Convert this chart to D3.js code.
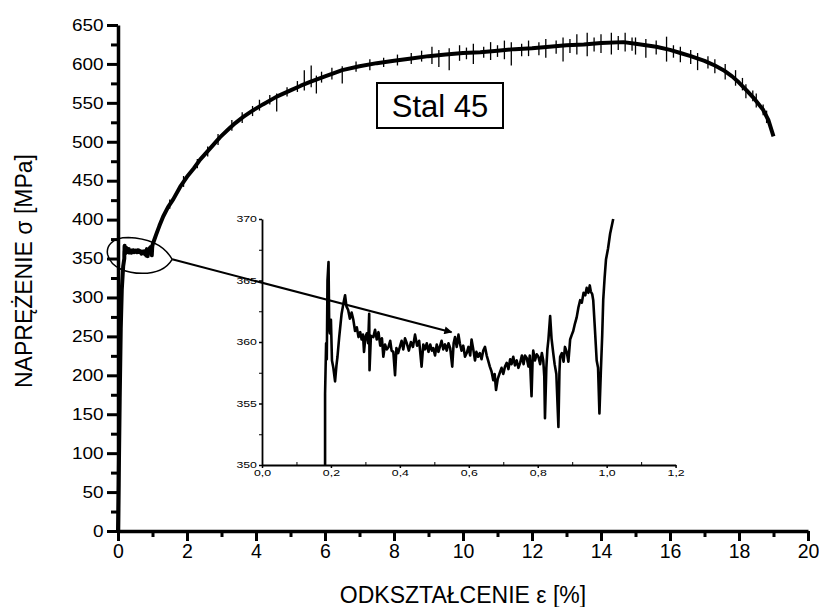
<!DOCTYPE html>
<html>
<head>
<meta charset="utf-8">
<script src="https://cdn.jsdelivr.net/npm/d3@7"></script>
<style>
  body { margin: 0; background: #fff; }
  svg text { font-family: Arial, "Liberation Sans", sans-serif; fill: #000; }
</style>
</head>
<body>
<div id="chart"></div>
<script>
// ---- data ----
// main axis ticks
const xTicks = [0, 2, 4, 6, 8, 10, 12, 14, 16, 18, 20];
const xMinorTicks = [1, 3, 5, 7, 9, 11, 13, 15, 17, 19];
const yTicks = [0, 50, 100, 150, 200, 250, 300, 350, 400, 450, 500, 550, 600, 650];
const yMinorTicks = [25, 75, 125, 175, 225, 275, 325, 375, 425, 475, 525, 575, 625];

// inset ticks
const insetXTicks = [0, 0.2, 0.4, 0.6, 0.8, 1.0, 1.2];
const insetXMinor = [0.1, 0.3, 0.5, 0.7, 0.9, 1.1];
const insetYTicks = [350, 355, 360, 365, 370];
const insetYMinor = [352.5, 357.5, 362.5, 367.5];

// elastic part [strain %, stress MPa]
const elastic = [[0, 0], [0.02, 60], [0.05, 170], [0.08, 260], [0.11, 310], [0.15, 340], [0.183, 350]];

// yield plateau (same points as in the inset)
const plateau = [
  [0.183, 350], [0.183, 355.8], [0.186, 359.9], [0.188, 358.6], [0.19, 365], [0.193, 366.5],
  [0.195, 361.2], [0.197, 360.7], [0.2, 361.8], [0.203, 358.5], [0.207, 357.9], [0.212, 356.8],
  [0.216, 358.1], [0.219, 358.8], [0.224, 360.4], [0.228, 361.5], [0.231, 362.3], [0.236, 363.1],
  [0.241, 363.8], [0.245, 362.9], [0.25, 362.6], [0.255, 361.9], [0.26, 362.4], [0.265, 361.8],
  [0.27, 360.9], [0.275, 361.2], [0.28, 360.4], [0.285, 360.8], [0.289, 360.2], [0.293, 360.6],
  [0.296, 359.2], [0.3, 360.4], [0.304, 360.7], [0.308, 359.9], [0.311, 362.3], [0.312, 357.7],
  [0.316, 360.5], [0.323, 360.4], [0.328, 361.0], [0.333, 360.2], [0.338, 360.8], [0.343, 359.7],
  [0.348, 360.3], [0.352, 358.8], [0.357, 359.8], [0.362, 359.4], [0.367, 359.6], [0.372, 360.1],
  [0.376, 359.3], [0.381, 359.2], [0.386, 357.3], [0.39, 359.5], [0.395, 359.1], [0.4, 359.6],
  [0.405, 360.1], [0.41, 359.4], [0.415, 360.3], [0.42, 359.9], [0.426, 359.3], [0.432, 360.0],
  [0.438, 359.6], [0.444, 360.6], [0.45, 359.7], [0.456, 360.1], [0.463, 358.0], [0.468, 359.8],
  [0.473, 359.4], [0.478, 359.9], [0.483, 359.2], [0.488, 359.8], [0.493, 359.3], [0.497, 359.5],
  [0.502, 358.9], [0.507, 359.8], [0.512, 359.2], [0.516, 359.6], [0.521, 360.1], [0.526, 359.4],
  [0.531, 359.8], [0.536, 359.3], [0.541, 359.9], [0.546, 359.5], [0.552, 358.0], [0.556, 359.9],
  [0.56, 360.4], [0.565, 359.6], [0.57, 360.6], [0.574, 359.9], [0.579, 359.3], [0.584, 359.7],
  [0.589, 358.8], [0.594, 359.1], [0.599, 359.6], [0.604, 358.9], [0.608, 360.2], [0.613, 359.4],
  [0.618, 358.5], [0.622, 359.2], [0.627, 358.8], [0.632, 359.1], [0.637, 358.6], [0.642, 359.3],
  [0.647, 359.6], [0.652, 358.9], [0.656, 358.5], [0.661, 358.0], [0.666, 357.6], [0.671, 356.9],
  [0.675, 357.4], [0.679, 356.1], [0.684, 357.0], [0.69, 357.5], [0.695, 357.9], [0.7, 357.4],
  [0.705, 358.0], [0.71, 358.3], [0.715, 357.8], [0.72, 358.6], [0.724, 358.2], [0.729, 358.8],
  [0.734, 358.1], [0.739, 358.5], [0.744, 357.9], [0.749, 358.3], [0.754, 358.9], [0.759, 358.2],
  [0.763, 358.9], [0.768, 358.7], [0.773, 358.0], [0.777, 358.9], [0.782, 355.6], [0.785, 358.4],
  [0.787, 359.3], [0.792, 358.5], [0.797, 359.0], [0.802, 358.8], [0.807, 358.2], [0.812, 359.1],
  [0.816, 358.5], [0.819, 357.2], [0.821, 353.8], [0.825, 357.9], [0.828, 359.4], [0.831, 360.2],
  [0.836, 362.1], [0.84, 360.3], [0.845, 359.1], [0.849, 358.2], [0.854, 357.4], [0.86, 353.1],
  [0.863, 357.6], [0.865, 358.8], [0.87, 359.1], [0.875, 358.4], [0.879, 359.6], [0.884, 359.2],
  [0.889, 358.4], [0.894, 360.2], [0.899, 360.6], [0.903, 360.9], [0.908, 361.5], [0.913, 362.0],
  [0.918, 362.8], [0.923, 363.4], [0.928, 363.2], [0.933, 364.0], [0.938, 363.8], [0.942, 364.4],
  [0.947, 364.0], [0.951, 364.6], [0.954, 364.1], [0.958, 363.9], [0.961, 363.4], [0.966, 361.0],
  [0.971, 358.5], [0.975, 357.9], [0.979, 354.2], [0.983, 357.5], [0.987, 360.5], [0.99, 363.4],
  [0.994, 365.2], [0.998, 366.7], [1.004, 367.6], [1.01, 368.8], [1.019, 370]
];

// strain hardening up to fracture
const hardening = [
  [1.1, 380], [1.2, 392], [1.31, 404], [1.45, 416], [1.6, 426], [1.8, 442], [2.0, 455],
  [2.2, 466], [2.38, 477], [2.6, 488], [2.8, 498], [2.96, 506], [3.2, 516], [3.4, 524],
  [3.63, 532], [3.9, 540], [4.2, 548], [4.6, 558], [5.0, 566], [5.3, 572], [5.57, 577],
  [6.0, 584], [6.5, 592], [7.0, 597], [7.5, 601], [8.0, 604], [8.5, 607], [9.0, 610],
  [9.5, 612], [10.0, 614], [10.5, 615], [11.0, 617], [11.5, 619], [12.0, 620], [12.5, 622],
  [13.0, 624], [13.5, 625], [14.0, 627], [14.65, 628], [15.0, 626], [15.3, 624], [15.6, 622],
  [16.0, 618], [16.3, 614], [16.6, 610], [17.0, 604], [17.3, 598], [17.55, 592], [17.8, 584],
  [18.0, 576], [18.22, 566], [18.45, 555], [18.7, 541], [18.85, 528], [18.95, 514], [19.0, 507]
];

// noise spikes on the hardening curve [strain, low, high]
const spikes = [
  [1.5, 414, 426], [1.9, 442, 456], [2.3, 466, 478], [2.6, 481, 494], [2.9, 496, 510],
  [3.3, 514, 528], [3.6, 524, 538], [3.9, 533, 546], [4.1, 540, 554], [4.4, 548, 560],
  [4.6, 539, 562], [4.9, 558, 570], [5.2, 564, 578], [5.4, 566, 592], [5.6, 570, 598],
  [5.75, 562, 585], [5.9, 576, 590], [6.2, 580, 595], [6.5, 575, 597], [6.9, 590, 603],
  [7.3, 592, 606], [7.7, 596, 608], [8.1, 598, 612], [8.5, 600, 614], [8.8, 603, 617],
  [9.1, 600, 622], [9.3, 596, 618], [9.6, 592, 620], [9.9, 604, 624], [10.1, 606, 621],
  [10.3, 600, 626], [10.6, 608, 622], [10.8, 605, 628], [11.0, 609, 624], [11.2, 606, 630],
  [11.4, 598, 628], [11.7, 610, 626], [11.9, 610, 630], [12.2, 611, 628], [12.4, 608, 632],
  [12.7, 613, 630], [12.9, 603, 634], [13.1, 614, 632], [13.3, 612, 638], [13.6, 610, 640],
  [13.8, 616, 634], [14.0, 614, 638], [14.3, 612, 640], [14.5, 618, 636], [14.7, 616, 640],
  [14.9, 617, 634], [15.0, 612, 634], [15.3, 608, 632], [15.6, 612, 630], [15.9, 603, 635],
  [16.1, 608, 624], [16.3, 602, 622], [16.6, 600, 618], [16.8, 592, 614], [17.1, 594, 610],
  [17.3, 588, 606], [17.6, 580, 600], [17.9, 572, 592], [18.1, 566, 582], [18.2, 556, 574],
  [18.4, 552, 566], [18.5, 544, 562], [18.7, 534, 548], [18.8, 524, 540]
];

// ---- layout ----
const width = 819, height = 607;
const margin = { top: 25, right: 11, bottom: 76, left: 118 };

const svg = d3.select("#chart")
  .append("svg")
  .attr("width", width)
  .attr("height", height)
  .attr("viewBox", [0, 0, width, height]);

const x = d3.scaleLinear().domain([0, 20]).range([margin.left, width - margin.right]);
const y = d3.scaleLinear().domain([0, 650]).range([height - margin.bottom, margin.top]);

// main axes (minor ticks first, then the labelled ones)
svg.append("g")
  .attr("class", "x-minor")
  .attr("transform", `translate(0,${y(0)})`)
  .call(d3.axisBottom(x).tickValues(xMinorTicks).tickSize(6).tickFormat(""))
  .call(g => g.select(".domain").remove());

svg.append("g")
  .attr("class", "y-minor")
  .attr("transform", `translate(${x(0)},0)`)
  .call(d3.axisLeft(y).tickValues(yMinorTicks).tickSize(7).tickFormat(""))
  .call(g => g.select(".domain").remove());

svg.append("g")
  .attr("class", "x-axis")
  .attr("transform", `translate(0,${y(0)})`)
  .call(d3.axisBottom(x).tickValues(xTicks).tickSize(10).tickSizeOuter(0).tickPadding(3));

svg.append("g")
  .attr("class", "y-axis")
  .attr("transform", `translate(${x(0)},0)`)
  .call(d3.axisLeft(y).tickValues(yTicks).tickSize(11).tickSizeOuter(0).tickPadding(1.5));

svg.selectAll(".x-axis, .y-axis, .x-minor, .y-minor").selectAll("line").attr("stroke-width", 3);
svg.selectAll(".x-axis .domain, .y-axis .domain").attr("stroke-width", 3.5);
svg.selectAll(".x-axis text").attr("font-size", 19.5);
// y labels in the picture are a bit wider than tall
svg.selectAll(".y-axis text").attr("font-size", 16.5).attr("transform", "scale(1.15,1)");

svg.append("text")
  .attr("x", (x(0) + x(20)) / 2)
  .attr("y", 603)
  .attr("text-anchor", "middle")
  .attr("font-size", 23)
  .text("ODKSZTAŁCENIE ε [%]");

svg.append("text")
  .attr("transform", `translate(32,271) rotate(-90)`)
  .attr("text-anchor", "middle")
  .attr("font-size", 23)
  .text("NAPRĘŻENIE σ [MPa]");

// main curve
const line = d3.line().x(d => x(d[0])).y(d => y(d[1]));
const mainData = elastic.concat(plateau, hardening);

svg.append("g")
  .attr("stroke", "#000")
  .attr("stroke-width", 1.3)
  .selectAll("line")
  .data(spikes)
  .join("line")
  .attr("x1", d => x(d[0]))
  .attr("x2", d => x(d[0]))
  .attr("y1", d => y(d[1]))
  .attr("y2", d => y(d[2]));

svg.append("path")
  .datum(mainData)
  .attr("fill", "none")
  .attr("stroke", "#000")
  .attr("stroke-width", 4)
  .attr("stroke-linejoin", "round")
  .attr("d", line);

// label box
const label = svg.append("g");
label.append("rect")
  .attr("x", 377).attr("y", 83).attr("width", 126).attr("height", 45)
  .attr("fill", "#fff").attr("stroke", "#000").attr("stroke-width", 2);
label.append("text")
  .attr("x", 440).attr("y", 117)
  .attr("text-anchor", "middle")
  .attr("font-size", 31)
  .text("Stal 45");

// ---- inset ----
const ix = d3.scaleLinear().domain([0, 1.2]).range([262, 675.6]);
const iy = d3.scaleLinear().domain([350, 370]).range([465, 219]);

const fmt = d => d.toFixed(1).replace(".", ",");

svg.append("g")
  .attr("transform", `translate(0,${iy(350)})`)
  .call(d3.axisBottom(ix).tickValues(insetXMinor).tickSize(-3).tickFormat(""))
  .call(g => g.select(".domain").remove());

svg.append("g")
  .attr("transform", `translate(${ix(0)},0)`)
  .call(d3.axisLeft(iy).tickValues(insetYMinor).tickSize(3).tickFormat(""))
  .call(g => g.select(".domain").remove());

svg.append("g")
  .attr("class", "ix-axis")
  .attr("transform", `translate(0,${iy(350)})`)
  .call(d3.axisBottom(ix).tickValues(insetXTicks).tickSize(3).tickSizeOuter(0).tickPadding(1.5).tickFormat(fmt));

svg.append("g")
  .attr("class", "iy-axis")
  .attr("transform", `translate(${ix(0)},0)`)
  .call(d3.axisLeft(iy).tickValues(insetYTicks).tickSize(3).tickSizeOuter(0).tickPadding(0.5));

svg.selectAll(".ix-axis line, .iy-axis line").attr("stroke-width", 1.5);
svg.selectAll(".ix-axis .domain, .iy-axis .domain").attr("stroke-width", 1.8);
svg.selectAll(".ix-axis text, .iy-axis text").attr("font-size", 8.5).attr("transform", "scale(1.45,1)");

svg.append("path")
  .datum(plateau)
  .attr("fill", "none")
  .attr("stroke", "#000")
  .attr("stroke-width", 2.6)
  .attr("stroke-linejoin", "round")
  .attr("d", d3.line().x(d => ix(d[0])).y(d => iy(d[1])));

// ---- ellipse + arrow pointing from the yield region to the inset ----
svg.append("defs").append("marker")
  .attr("id", "arrow")
  .attr("viewBox", "0 0 10 10")
  .attr("refX", 9).attr("refY", 5)
  .attr("markerWidth", 7).attr("markerHeight", 4)
  .attr("markerUnits", "strokeWidth")
  .attr("orient", "auto")
  .append("path")
  .attr("d", "M0,0L10,5L0,10Z")
  .attr("fill", "#000");

svg.append("path")
  .attr("d", `M${x(1.57)},${y(349)}
    C${x(1.35)},${y(366)} ${x(0.9)},${y(376)} ${x(0.3)},${y(377)}
    C${x(-0.2)},${y(377)} ${x(-0.35)},${y(365)} ${x(-0.3)},${y(355)}
    C${x(-0.2)},${y(337)} ${x(0.3)},${y(331)} ${x(0.7)},${y(331)}
    C${x(1.2)},${y(331)} ${x(1.45)},${y(340)} ${x(1.57)},${y(349)}`)
  .attr("fill", "none")
  .attr("stroke", "#000")
  .attr("stroke-width", 1.5);

svg.append("line")
  .attr("x1", x(1.57)).attr("y1", y(349))
  .attr("x2", ix(0.55)).attr("y2", iy(360.8))
  .attr("stroke", "#000")
  .attr("stroke-width", 2)
  .attr("marker-end", "url(#arrow)");
</script>
</body>
</html>
